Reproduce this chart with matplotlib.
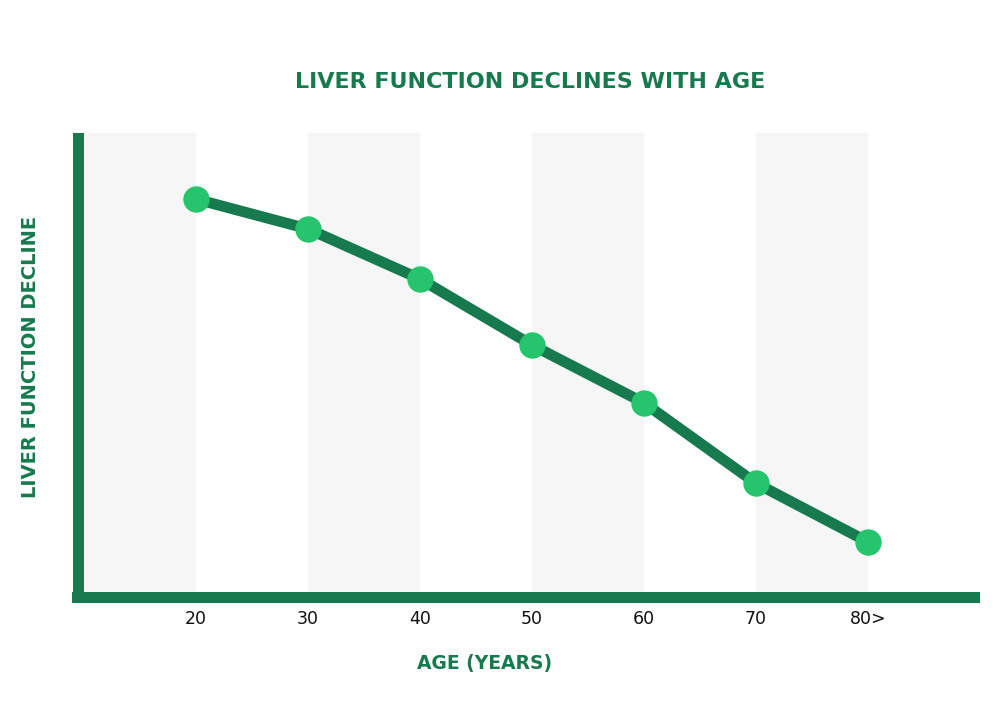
import matplotlib
matplotlib.use("Agg")
import matplotlib.pyplot as plt
from matplotlib.patches import Rectangle

# Data
ages = [20, 30, 40, 50, 60, 70, 80]
tick_labels = ["20", "30", "40", "50", "60", "70", "80>"]
liver_function = [85.6, 79.1, 68.2, 53.8, 41.2, 23.7, 10.9]
band_starts = [10, 30, 50, 70]
band_width = 10

DARK = "#177a4f"
LIGHT = "#26c46c"
BAND = "#f6f6f6"

plt.rcParams['font.family'] = ['DejaVu Sans']

W, H = 1000, 705
fig = plt.figure(figsize=(W / 100, H / 100), dpi=100)
fig.patch.set_facecolor("white")

ax_left, ax_right, ax_top, ax_bottom = 84, 980, 133, 592
ax = fig.add_axes([ax_left / W, 1 - ax_bottom / H, (ax_right - ax_left) / W, (ax_bottom - ax_top) / H])
ax.set_xlim(10, 90)
ax.set_ylim(0, 100)
ax.set_facecolor("white")

for b in band_starts:
    ax.axvspan(b, b + band_width, color=BAND, lw=0, zorder=0)

ax.plot(ages, liver_function, color=DARK, lw=7.8, zorder=2, solid_capstyle="round")
ax.plot(ages, liver_function, linestyle="none", marker="o", markersize=18,
        markerfacecolor=LIGHT, markeredgecolor=LIGHT, zorder=3)

for s in ax.spines.values():
    s.set_visible(False)

# thick axis bars
aw = ax_right - ax_left
ah = ax_bottom - ax_top
t = 11
ax.add_patch(Rectangle((-t / aw, -t / ah), t / aw, 1 + t / ah, transform=ax.transAxes,
                       color=DARK, lw=0, clip_on=False, zorder=4))
ax.add_patch(Rectangle((-(ax_left - 72) / aw, -t / ah), 1 + (ax_left - 72) / aw, t / ah,
                       transform=ax.transAxes, color=DARK, lw=0, clip_on=False, zorder=4))

ax.set_xticks(ages)
ax.set_xticklabels(tick_labels, fontsize=12.5, color="#111111")
ax.tick_params(axis="x", length=0, pad=13)
ax.set_yticks([])

fig.text(530 / W, 1 - 82.5 / H, "LIVER FUNCTION DECLINES WITH AGE", ha="center", va="center",
         fontsize=16, fontweight="bold", color=DARK)
fig.text(31 / W, 1 - 357 / H, "LIVER FUNCTION DECLINE", ha="center", va="center",
         rotation=90, fontsize=14, fontweight="bold", color=DARK)
fig.text(485 / W, 1 - 663 / H, "AGE (YEARS)", ha="center", va="center",
         fontsize=13.5, fontweight="bold", color=DARK)

fig.savefig("out.png", dpi=100, facecolor="white")
